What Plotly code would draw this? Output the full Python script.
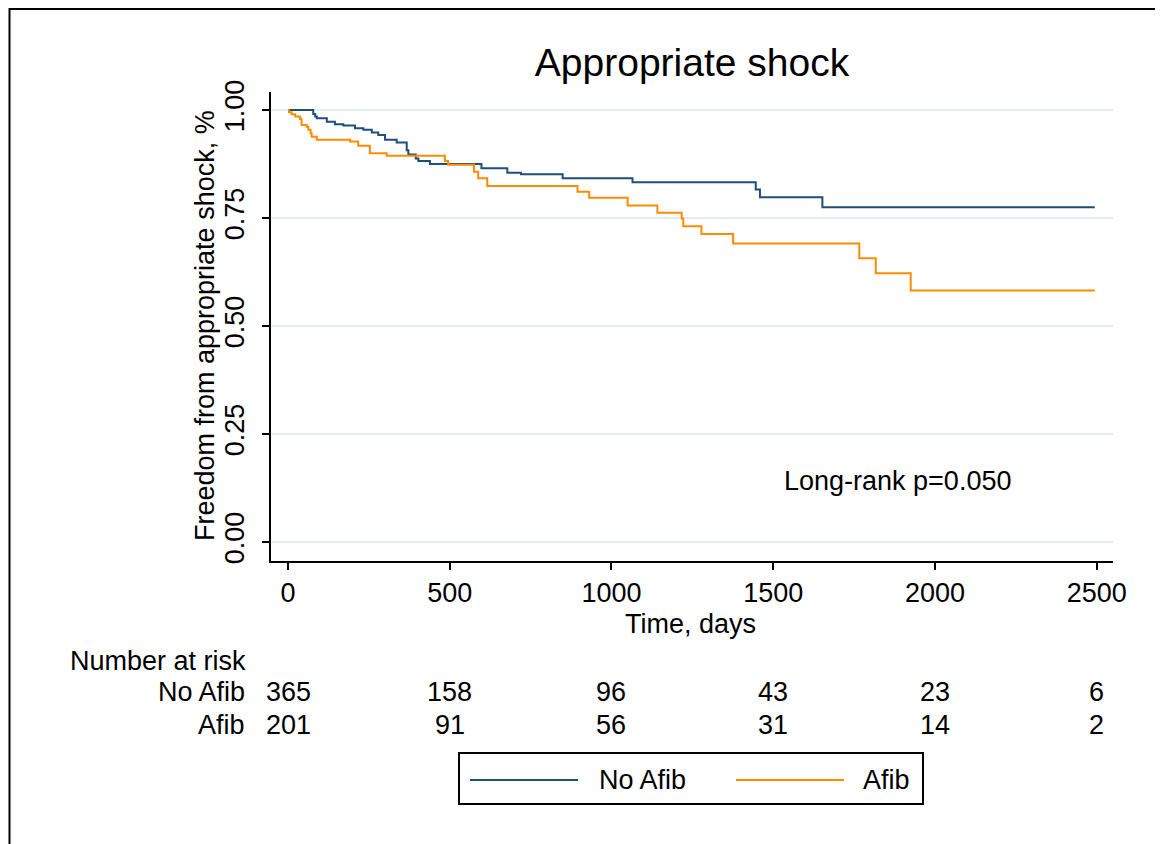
import plotly.graph_objects as go

# ---------------- data ----------------
no_afib_days = [0, 78, 84, 89, 120, 145, 171, 207, 233, 259, 279, 300, 336, 367, 372, 395, 403, 439,
                598, 678, 720, 849, 1065, 1446, 1459, 1652, 2494]
no_afib_surv = [1.0, 0.991, 0.985, 0.981, 0.973, 0.967, 0.964, 0.958, 0.954, 0.948, 0.942, 0.931, 0.925,
                0.907, 0.897, 0.888, 0.882, 0.875, 0.865, 0.855, 0.851, 0.842, 0.833, 0.816, 0.798,
                0.775, 0.775]

afib_days = [0, 3, 11, 22, 37, 42, 58, 63, 70, 73, 89, 192, 217, 253, 305, 485, 495, 575, 588, 616,
             895, 931, 1050, 1142, 1217, 1222, 1278, 1376, 1766, 1817, 1925, 2494]
afib_surv = [1.0, 0.995, 0.990, 0.985, 0.979, 0.965, 0.961, 0.954, 0.946, 0.938, 0.931, 0.927, 0.917,
             0.900, 0.894, 0.882, 0.873, 0.857, 0.842, 0.824, 0.811, 0.797, 0.779, 0.762, 0.749,
             0.731, 0.713, 0.691, 0.657, 0.622, 0.582, 0.582]

risk_times = [0, 500, 1000, 1500, 2000, 2500]
risk_no_afib = [365, 158, 96, 43, 23, 6]
risk_afib = [201, 91, 56, 31, 14, 2]

y_ticks = [0.0, 0.25, 0.5, 0.75, 1.0]
x_ticks = [0, 500, 1000, 1500, 2000, 2500]

BLUE = "#1f4e79"
ORANGE = "#ff8c00"
FONT = "Liberation Sans, Arial, sans-serif"
FS = 27

W, H = 1163, 844
OFF = 8  # page body margin
# plot area in page pixels
PL, PR, PT, PB = 271, 1113, 92, 561
L, R, T, B = PL - OFF, PR - OFF, PT - OFF, PB - OFF


def xp(px):
    return (px - OFF - L) / (R - L)


def yp(py):
    return (B - (py - OFF)) / (B - T)


fig = go.Figure()
fig.add_trace(go.Scatter(x=no_afib_days, y=no_afib_surv, mode="lines", line_shape="hv",
                         line=dict(color=BLUE, width=2), name="No Afib", showlegend=False))
fig.add_trace(go.Scatter(x=afib_days, y=afib_surv, mode="lines", line_shape="hv",
                         line=dict(color=ORANGE, width=2), name="Afib", showlegend=False))

annotations = []
annotations.append(dict(text="Number at risk", x=xp(68), y=yp(661), xref="paper", yref="paper",
                        xanchor="left", yanchor="middle", showarrow=False, font=dict(size=FS)))
annotations.append(dict(text="No Afib", x=xp(247), y=yp(692), xref="paper", yref="paper",
                        xanchor="right", yanchor="middle", showarrow=False, font=dict(size=FS)))
annotations.append(dict(text="Afib", x=xp(247), y=yp(725), xref="paper", yref="paper",
                        xanchor="right", yanchor="middle", showarrow=False, font=dict(size=FS)))
for t, n1, n2 in zip(risk_times, risk_no_afib, risk_afib):
    annotations.append(dict(text=str(n1), x=t, y=yp(692), xref="x", yref="paper",
                            xanchor="center", yanchor="middle", showarrow=False, font=dict(size=FS)))
    annotations.append(dict(text=str(n2), x=t, y=yp(725), xref="x", yref="paper",
                            xanchor="center", yanchor="middle", showarrow=False, font=dict(size=FS)))

annotations.append(dict(text="Long-rank p=0.050", x=1883, y=0.141, xref="x", yref="y",
                        xanchor="center", yanchor="middle", showarrow=False, font=dict(size=FS)))
annotations.append(dict(text="Time, days", x=xp(690), y=yp(624), xref="paper", yref="paper",
                        xanchor="center", yanchor="middle", showarrow=False, font=dict(size=FS)))
annotations.append(dict(text="Freedom from appropriate shock, %", x=xp(205), y=yp(326),
                        xref="paper", yref="paper", textangle=-90,
                        xanchor="center", yanchor="middle", showarrow=False, font=dict(size=FS)))
annotations.append(dict(text="No Afib", x=xp(597), y=yp(780), xref="paper", yref="paper",
                        xanchor="left", yanchor="middle", showarrow=False, font=dict(size=FS)))
annotations.append(dict(text="Afib", x=xp(861), y=yp(780), xref="paper", yref="paper",
                        xanchor="left", yanchor="middle", showarrow=False, font=dict(size=FS)))

shapes = [
    dict(type="rect", xref="paper", yref="paper", x0=xp(9.5), x1=xp(1160), y0=yp(860), y1=yp(9),
         line=dict(color="black", width=2), fillcolor="rgba(0,0,0,0)", layer="below"),
    dict(type="rect", xref="paper", yref="paper", x0=xp(459), x1=xp(923), y0=yp(804), y1=yp(753),
         line=dict(color="black", width=2), fillcolor="white"),
    dict(type="line", xref="paper", yref="paper", x0=xp(470), x1=xp(578), y0=yp(780), y1=yp(780),
         line=dict(color=BLUE, width=2)),
    dict(type="line", xref="paper", yref="paper", x0=xp(736), x1=xp(844), y0=yp(780), y1=yp(780),
         line=dict(color=ORANGE, width=2)),
]

px_per_day = (1096.7 - 288) / 2500
x0 = (PL - 288) / px_per_day
x1 = (PR - 288) / px_per_day
y0 = -(PB - 542) / 432
y1 = 1 + (110 - PT) / 432

fig.update_layout(
    width=W, height=H,
    margin=dict(l=L, r=W - R, t=T, b=H - B, pad=0),
    paper_bgcolor="white", plot_bgcolor="white",
    font=dict(family=FONT, color="black", size=FS),
    title=dict(text="Appropriate shock", x=0.5, xref="paper", xanchor="center",
               y=1 - (62 - OFF) / H, yanchor="middle", font=dict(size=39, color="black")),
    showlegend=False,
    annotations=annotations,
    shapes=shapes,
    xaxis=dict(range=[x0, x1], tickvals=x_ticks, ticktext=[str(v) for v in x_ticks],
               showgrid=False, zeroline=False, showline=True, linecolor="black", linewidth=2,
               ticks="outside", ticklen=7, tickwidth=2, tickcolor="black",
               tickfont=dict(size=FS)),
    yaxis=dict(range=[y0, y1], tickvals=y_ticks, ticktext=[f"{v:.2f}" for v in y_ticks],
               tickangle=-90, showgrid=True, gridcolor="#e4edf1", gridwidth=1.5,
               zeroline=False, showline=True, linecolor="black", linewidth=2,
               ticks="outside", ticklen=7, tickwidth=2, tickcolor="black",
               ticklabelstandoff=7, tickfont=dict(size=FS)),
)

fig.write_html("out.html")
